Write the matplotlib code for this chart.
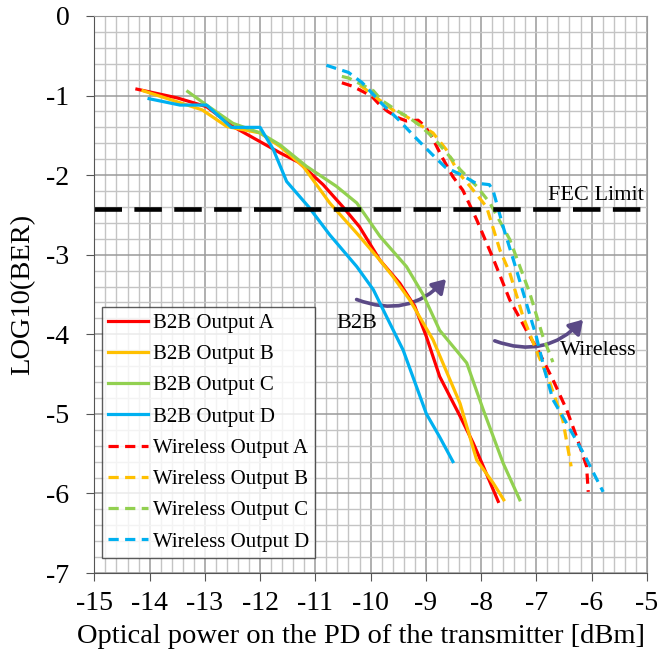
import numpy as np
import matplotlib.pyplot as plt
from matplotlib.patches import FancyArrowPatch

plt.rcParams['font.family'] = ['Liberation Serif', 'DejaVu Serif']
plt.rcParams['axes.unicode_minus'] = False

# B2B curves (solid)
b2b_a_x = [-14.23, -13.5, -12.97, -12.49, -12.0, -11.64, -11.3, -10.86, -10.5, -10.2, -9.83, -9.47, -9.2, -8.99, -8.75, -8.38, -8.14, -7.96, -7.69]
b2b_a_y = [-0.92, -1.03, -1.14, -1.39, -1.58, -1.72, -1.84, -2.12, -2.40, -2.65, -3.07, -3.36, -3.65, -4.03, -4.53, -5.03, -5.37, -5.66, -6.10]

b2b_b_x = [-14.12, -13.05, -12.6, -12.0, -11.64, -11.22, -10.74, -10.25, -9.83, -9.59, -9.29, -8.87, -8.38, -8.08, -7.78, -7.59]
b2b_b_y = [-0.94, -1.18, -1.39, -1.47, -1.64, -1.89, -2.35, -2.73, -3.07, -3.28, -3.57, -4.07, -4.87, -5.58, -5.87, -6.08]

b2b_c_x = [-13.31, -12.97, -12.49, -12.0, -11.64, -11.16, -10.62, -10.25, -9.83, -9.35, -9.05, -8.75, -8.26, -7.96, -7.60, -7.30]
b2b_c_y = [-0.95, -1.12, -1.35, -1.47, -1.62, -1.89, -2.14, -2.35, -2.77, -3.15, -3.50, -3.95, -4.36, -4.95, -5.62, -6.08]

b2b_d_x = [-14.01, -13.45, -12.97, -12.52, -12.0, -11.76, -11.52, -11.12, -10.74, -10.25, -9.95, -9.71, -9.41, -8.99, -8.75, -8.51]
b2b_d_y = [-1.04, -1.12, -1.12, -1.40, -1.40, -1.68, -2.08, -2.40, -2.75, -3.15, -3.44, -3.78, -4.20, -5.00, -5.29, -5.60]

# Wireless curves (dashed)
wl_a_x = [-10.52, -10.34, -10.14, -9.98, -9.83, -9.69, -9.50, -9.35, -9.14, -9.01, -8.89, -8.71, -8.51, -8.33, -8.08, -7.78, -7.48, -7.18, -6.94, -6.70, -6.45, -6.27, -6.09, -6.06]
wl_a_y = [-0.84, -0.88, -0.95, -1.01, -1.12, -1.20, -1.28, -1.32, -1.31, -1.39, -1.52, -1.77, -2.02, -2.19, -2.56, -3.05, -3.57, -3.95, -4.24, -4.57, -4.95, -5.29, -5.66, -5.98]

wl_b_x = [-10.19, -9.85, -9.56, -9.41, -9.20, -8.87, -8.63, -8.42, -8.20, -7.90, -7.66, -7.48, -7.24, -7.03, -6.76, -6.52, -6.37]
wl_b_y = [-0.87, -1.05, -1.20, -1.24, -1.33, -1.47, -1.68, -1.96, -2.14, -2.40, -2.94, -3.23, -3.78, -4.15, -4.60, -5.08, -5.66]

wl_c_x = [-10.52, -10.40, -10.14, -9.95, -9.80, -9.50, -9.30, -9.10, -8.85, -8.55, -8.38, -8.08, -7.84, -7.48, -7.12, -6.88, -6.70]
wl_c_y = [-0.76, -0.78, -0.87, -0.94, -1.06, -1.20, -1.28, -1.38, -1.54, -1.78, -1.93, -2.14, -2.35, -2.81, -3.48, -4.03, -4.35]

wl_d_x = [-10.80, -10.40, -10.15, -9.80, -9.50, -9.20, -8.90, -8.65, -8.35, -8.10, -7.85, -7.78, -7.60, -7.36, -7.18, -7.00, -6.85, -6.70, -6.45, -6.15, -5.79]
wl_d_y = [-0.62, -0.71, -0.84, -1.10, -1.30, -1.52, -1.73, -1.90, -2.00, -2.10, -2.12, -2.20, -2.65, -3.19, -3.61, -4.03, -4.45, -4.82, -5.12, -5.49, -5.98]

fec_limit = -2.42

red = '#ff0000'
orange = '#ffc000'
green = '#92d050'
blue = '#00b0f0'
purple = '#5b4a86'

fig = plt.figure(figsize=(6.6, 6.64), dpi=100)
ax = fig.add_axes([0.143, 0.137, 0.837, 0.839])

# grid
ax.set_xlim(-15, -5)
ax.set_ylim(-7, 0)
ax.set_xticks(np.arange(-15, -4, 1))
ax.set_yticks(np.arange(-7, 1, 1))
ax.set_xticks(np.arange(-15, -5, 0.2), minor=True)
ax.set_yticks(np.arange(-7, 0, 0.2), minor=True)
ax.grid(which='minor', color='#c4c4c4', lw=1.0)
ax.grid(which='major', color='#9a9a9a', lw=1.1)
ax.set_axisbelow(True)

lw = 2.3
ax.plot(b2b_a_x, b2b_a_y, color=red, lw=lw, label='B2B Output A')
ax.plot(b2b_b_x, b2b_b_y, color=orange, lw=lw, label='B2B Output B')
ax.plot(b2b_c_x, b2b_c_y, color=green, lw=lw, label='B2B Output C')
ax.plot(b2b_d_x, b2b_d_y, color=blue, lw=lw, label='B2B Output D')
ax.plot(wl_a_x, wl_a_y, color=red, lw=lw, dashes=(3.2, 2), label='Wireless Output A')
ax.plot(wl_b_x, wl_b_y, color=orange, lw=lw, dashes=(3.2, 2), label='Wireless Output B')
ax.plot(wl_c_x, wl_c_y, color=green, lw=lw, dashes=(3.2, 2), label='Wireless Output C')
ax.plot(wl_d_x, wl_d_y, color=blue, lw=lw, dashes=(3.2, 2), label='Wireless Output D')

ax.axhline(fec_limit, color='black', lw=3.3, dashes=(6, 2.7))
ax.text(-5.06, fec_limit + 0.05, 'FEC Limit', fontsize=16, ha='right', va='bottom')

# curved arrows
arr1 = FancyArrowPatch((-10.3, -3.55), (-8.6, -3.28), connectionstyle='arc3,rad=0.35',
                       arrowstyle='-|>,head_length=8,head_width=5', color=purple, lw=2.6)
ax.add_patch(arr1)
ax.text(-10.25, -3.86, 'B2B', fontsize=16, ha='center', va='center')
arr2 = FancyArrowPatch((-7.8, -4.07), (-6.12, -3.79), connectionstyle='arc3,rad=0.35',
                       arrowstyle='-|>,head_length=8,head_width=5', color=purple, lw=2.6)
ax.add_patch(arr2)
ax.text(-6.57, -4.2, 'Wireless', fontsize=16, ha='left', va='center')

leg = ax.legend(loc='upper left', bbox_to_anchor=(0.0136, 0.4776), borderaxespad=0,
                fontsize=15, frameon=True, fancybox=False, handlelength=1.9,
                handletextpad=0.25, labelspacing=0.56, borderpad=0.3)
leg.get_frame().set_edgecolor('#333333')
leg.get_frame().set_linewidth(1.0)

ax.tick_params(which='major', direction='out', length=6, labelsize=20, color='#555555')
ax.tick_params(axis='y', which='major', pad=12)
ax.tick_params(axis='x', which='major', pad=7)
ax.tick_params(which='minor', length=0)
for s in ['top', 'right']:
    ax.spines[s].set_color('#999999')
for s in ['left', 'bottom']:
    ax.spines[s].set_color('#555555')

ax.set_xlabel('Optical power on the PD of the transmitter [dBm]', fontsize=20.5)
ax.xaxis.set_label_coords(0.483, -0.092)
ax.set_ylabel('LOG10(BER)', fontsize=20.5, labelpad=8)

fig.savefig('out.png', dpi=100)
